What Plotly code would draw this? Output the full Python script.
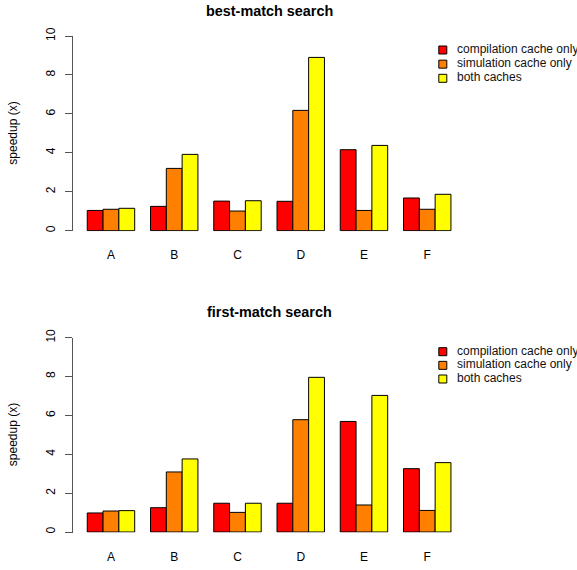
import plotly.graph_objects as go

categories = ["A", "B", "C", "D", "E", "F"]
series_names = ["compilation cache only", "simulation cache only", "both caches"]
series_colors = ["#FF0000", "#FF8000", "#FFFF00"]

best_compilation = [1.04, 1.25, 1.52, 1.51, 4.16, 1.68]
best_simulation = [1.10, 3.20, 1.01, 6.18, 1.04, 1.10]
best_both = [1.15, 3.92, 1.54, 8.90, 4.38, 1.87]

first_compilation = [0.98, 1.25, 1.48, 1.48, 5.69, 3.26]
first_simulation = [1.08, 3.09, 1.01, 5.78, 1.39, 1.11]
first_both = [1.10, 3.76, 1.48, 7.96, 7.03, 3.57]

panel_titles = ["best-match search", "first-match search"]
y_label = "speedup (x)"
y_ticks = [0, 2, 4, 6, 8, 10]

W, H = 577, 570
FONT = "Liberation Sans, Arial, Helvetica, sans-serif"

fig = go.Figure()

panels = [
    (best_compilation, best_simulation, best_both),
    (first_compilation, first_simulation, first_both),
]

# pixel geometry of each panel (top px of y=10, bottom px of y=0)
x_left_px, x_right_px = 72.7, 465.5
panel_px = [(36.0, 230.7), (337.7, 532.0)]
legend_px = [(50.0, 78.3), (351.7, 379.0)]
title_px = [11.0, 311.7]

def yfrac(px):
    return 1 - px / H

annotations = []
for p, (vals, (top, bot), (ltop, lbot), tpx) in enumerate(
        zip(panels, panel_px, legend_px, title_px)):
    k = "" if p == 0 else str(p + 1)
    xa = "x" + k
    ya = "y" + k
    per_unit = (bot - top) / 10.0
    lo = -0.03
    for name, color, v in zip(series_names, series_colors, vals):
        fig.add_trace(go.Bar(
            x=categories, y=v, name=name, xaxis=xa, yaxis=ya,
            marker=dict(color=color, line=dict(color="black", width=1)),
            showlegend=False, offsetgroup=name,
        ))
    fig.layout["xaxis" + k] = dict(
        domain=[x_left_px / W, x_right_px / W],
        range=[-0.605, 5.605], type="category",
        showline=False, showgrid=False, zeroline=False,
        ticks="", ticklabelstandoff=15, automargin=False,
        tickfont=dict(family=FONT, size=12, color="black"),
        anchor=ya, fixedrange=True,
    )
    fig.layout["yaxis" + k] = dict(
        domain=[yfrac(bot + (-lo) * per_unit), yfrac(top)],
        range=[lo, 10], tickvals=y_ticks, ticktext=[str(t) for t in y_ticks],
        showline=True, linecolor="#555555", linewidth=1.3,
        ticks="outside", ticklen=7, tickcolor="#555555", tickwidth=1.3,
        tickangle=-90, ticklabelstandoff=5, automargin=False,
        tickfont=dict(family=FONT, size=12, color="black"),
        showgrid=False, zeroline=False, anchor=xa, fixedrange=True,
    )
    # legend as its own hidden axis pair
    lk = str(p + 3)
    lxa, lya = "x" + lk, "y" + lk
    n = len(series_names)
    fig.add_trace(go.Scatter(
        x=[0] * n, y=list(range(n)), mode="markers", xaxis=lxa, yaxis=lya,
        marker=dict(symbol="square", size=8, color=series_colors,
                    line=dict(color="black", width=1)),
        showlegend=False, hoverinfo="skip", cliponaxis=False,
    ))
    fig.add_trace(go.Scatter(
        x=[1] * n, y=list(range(n)), mode="text", text=series_names,
        textposition="middle right", xaxis=lxa, yaxis=lya,
        textfont=dict(family=FONT, size=12, color="#111111"),
        showlegend=False, hoverinfo="skip", cliponaxis=False,
    ))
    fig.layout["xaxis" + lk] = dict(
        domain=[442.8 / W, 457.0 / W], range=[0, 1], visible=False,
        anchor=lya, fixedrange=True, automargin=False,
    )
    fig.layout["yaxis" + lk] = dict(
        domain=[yfrac(lbot), yfrac(ltop)], range=[n - 1, 0], visible=False,
        anchor=lxa, fixedrange=True, automargin=False,
    )
    annotations.append(dict(
        text="<b>" + panel_titles[p] + "</b>", xref="paper", yref="paper",
        x=(x_left_px + x_right_px) / 2 / W, y=yfrac(tpx),
        xanchor="center", yanchor="middle", showarrow=False,
        font=dict(family=FONT, size=14.4, color="black"),
    ))
    annotations.append(dict(
        text=y_label, xref="paper", yref="paper",
        x=13.3 / W, y=yfrac((top + bot) / 2), textangle=-90,
        xanchor="center", yanchor="middle", showarrow=False,
        font=dict(family=FONT, size=12, color="black"),
    ))

fig.update_layout(
    template="none",
    width=W, height=H, margin=dict(l=0, r=0, t=0, b=0, pad=0),
    paper_bgcolor="white", plot_bgcolor="white",
    barmode="group", bargap=0.25, bargroupgap=0,
    annotations=annotations, showlegend=False,
    font=dict(family=FONT, size=12, color="black"),
)

fig.write_html("out.html", config={"displayModeBar": False})
